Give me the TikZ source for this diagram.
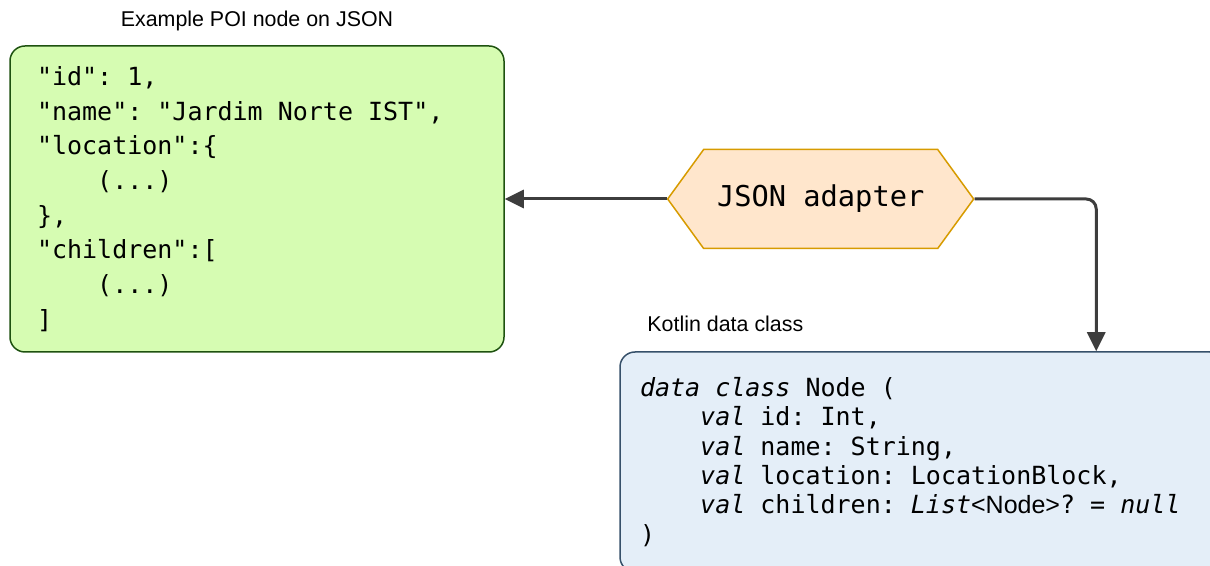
\documentclass[tikz,border=0pt]{standalone}
\usepackage{fontspec}
\setmainfont{Liberation Sans}
\newfontfamily\codefont{DejaVu Sans Mono}
\usetikzlibrary{positioning}
\usetikzlibrary{shapes.symbols}
\usetikzlibrary{arrows.meta}

\definecolor{poifill}{HTML}{D6FCB2}
\definecolor{poiline}{HTML}{1E5210}
\definecolor{ktfill}{HTML}{E4EEF8}
\definecolor{ktline}{HTML}{36506A}
\definecolor{adfill}{HTML}{FFE6CC}
\definecolor{adline}{HTML}{D79B00}
\definecolor{wire}{HTML}{3D3D3D}

% blanks as wide as one mono glyph
\newcommand{\monospaces}{\spaceskip=0.602em\xspaceskip=0.602em\relax}
% four blanks of the mono font
\newcommand{\codeind}{\hspace*{2.408em}}
% italic keywords
\newcommand{\kw}[1]{{\itshape\monospaces #1}}

\begin{document}
\begin{tikzpicture}[x = 1pt, y = 1pt,
	box/.style = {rectangle, rounded corners = 15pt, line width = 1.5pt, align = left, execute at begin node = \monospaces},
	caption/.style = {inner sep = 0pt, font = \fontsize{21.4}{25}\selectfont},
	conn/.style = {draw = wire, line width = 3pt, -{Triangle[length = 19pt, width = 18pt]}}]
	\useasboundingbox (0,0) rectangle (1210,565);
	\clip (0,0) rectangle (1210,565);

	\node[box, draw = poiline, fill = poifill, minimum width = 494pt, minimum height = 306pt, text width = 440pt, inner xsep = 27pt,
		font = \codefont\fontsize{25}{34.7}\selectfont] (poi) at (257,366)
		{"id": 1,\\
		"name": "Jardim Norte IST",\\
		"location":\{\\
		\codeind(...)\\
		\},\\
		"children":[\\
		\codeind(...)\\
		]};
	\node[caption] (poititle) [above = 14.5pt of poi] {Example POI node on JSON};

	\node[signal, signal to = west and east, signal pointer angle = 108, draw = adline, fill = adfill, line width = 1.5pt,
		minimum width = 306pt, minimum height = 99pt, font = \codefont\fontsize{28.7}{34}\selectfont]
		(adapter) [right = 162pt of poi] {JSON adapter};

	\node[box, draw = ktline, fill = ktfill, minimum width = 605pt, minimum height = 220pt, text width = 565pt, inner xsep = 20pt,
		font = \codefont\fontsize{25}{29.3}\selectfont] (kotlin) at (922.5,103)
		{\kw{data class} Node (\\
		\codeind\kw{val} id: Int,\\
		\codeind\kw{val} name: String,\\
		\codeind\kw{val} location: LocationBlock,\\
		\codeind\kw{val} children: \kw{List}{\normalfont <Node>}? = \kw{null}\\
		)};
	\node[caption] (kotlintitle) [above right = 19pt and 28pt of kotlin.north west] {Kotlin data class};

	\draw[conn] (adapter.west) -- (poi.east);
	\draw[conn, rounded corners = 10pt] (adapter.east) -| ([xshift = 477pt]kotlin.north west);
\end{tikzpicture}
\end{document}
